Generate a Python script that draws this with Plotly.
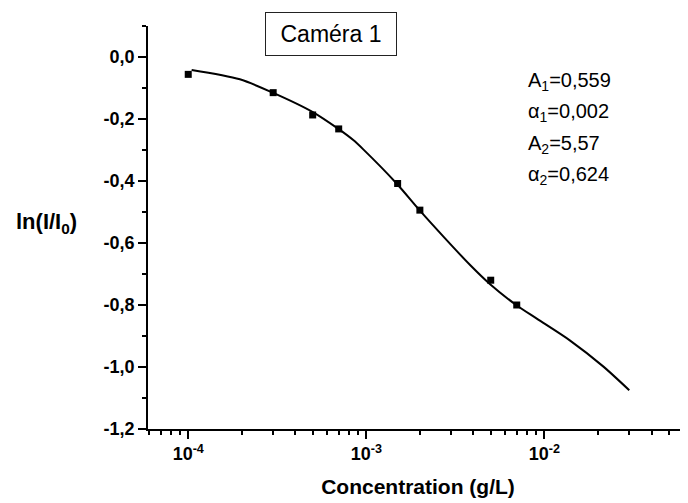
import plotly.graph_objects as go

# Measured points (concentration in g/L, ln(I/I0))
conc = [1e-4, 3e-4, 5e-4, 7e-4, 1.5e-3, 2e-3, 5e-3, 7e-3]
ln_ratio = [-0.056, -0.115, -0.187, -0.232, -0.408, -0.494, -0.720, -0.800]

# Fitted curve
fit_conc = [1.045e-4, 1.95e-4, 2.98e-4, 4.98e-4, 6.97e-4, 8.45e-4, 9.62e-4, 1.48e-3,
            1.99e-3, 2.77e-3, 3.83e-3, 4.96e-3, 6.95e-3, 9.07e-3, 1.39e-2, 2.14e-2, 3.0e-2]
fit_ln = [-0.042, -0.072, -0.115, -0.177, -0.232, -0.268, -0.298, -0.408,
          -0.494, -0.585, -0.671, -0.733, -0.800, -0.844, -0.914, -0.998, -1.075]

# Axis ticks
y_ticks = [0.0, -0.2, -0.4, -0.6, -0.8, -1.0, -1.2]
y_labels = ['0,0', '-0,2', '-0,4', '-0,6', '-0,8', '-1,0', '-1,2']
y_minor = [0.1, -0.1, -0.3, -0.5, -0.7, -0.9, -1.1]
x_ticks = [1e-4, 1e-3, 1e-2]
x_labels = ['10<sup>-4</sup>', '10<sup>-3</sup>', '10<sup>-2</sup>']
x_minor = [6e-5, 7e-5, 8e-5, 9e-5,
           2e-4, 3e-4, 4e-4, 5e-4, 6e-4, 7e-4, 8e-4, 9e-4,
           2e-3, 3e-3, 4e-3, 5e-3, 6e-3, 7e-3, 8e-3, 9e-3,
           2e-2, 3e-2, 4e-2, 5e-2, 6e-2]

params = ['A<sub>1</sub>=0,559', 'α<sub>1</sub>=0,002', 'A<sub>2</sub>=5,57', 'α<sub>2</sub>=0,624']

FONT = 'Arial, Liberation Sans, sans-serif'


def main():
    fig = go.Figure()
    fig.add_trace(go.Scatter(
        x=fit_conc, y=fit_ln, mode='lines',
        line=dict(color='black', width=2, shape='spline', smoothing=0.8),
        showlegend=False
    ))
    fig.add_trace(go.Scatter(
        x=conc, y=ln_ratio, mode='markers',
        marker=dict(symbol='square', size=7, color='black'),
        showlegend=False
    ))

    fig.update_xaxes(
        type='log', range=[-4.226, -1.193],
        showline=True, linecolor='black', linewidth=1.5, showgrid=False, zeroline=False,
        ticks='outside', ticklen=8, tickwidth=1.5, tickcolor='black',
        tickvals=x_ticks, ticktext=x_labels,
        tickfont=dict(family=FONT, size=18, color='black', weight='bold'),
        minor=dict(tickvals=x_minor, ticks='outside', ticklen=4, tickwidth=1.5, tickcolor='black',
                   showgrid=False),
        title=dict(text='Concentration (g/L)', standoff=16,
                   font=dict(family=FONT, size=21, color='black', weight='bold'))
    )
    fig.update_yaxes(
        range=[-1.2, 0.1],
        showline=True, linecolor='black', linewidth=1.5, showgrid=False, zeroline=False,
        ticks='outside', ticklen=8, tickwidth=1.5, tickcolor='black',
        tickvals=y_ticks, ticktext=y_labels,
        tickfont=dict(family=FONT, size=18, color='black', weight='bold'),
        minor=dict(tickvals=y_minor, ticks='outside', ticklen=4, tickwidth=1.5, tickcolor='black',
                   showgrid=False)
    )

    # Horizontal y-axis label
    fig.add_annotation(
        text='ln(I/I<sub>0</sub>)', xref='paper', yref='paper',
        x=-0.128, y=0.51, xanchor='right', yanchor='middle', showarrow=False,
        font=dict(family=FONT, size=22, color='black', weight='bold')
    )
    # Boxed title
    fig.add_annotation(
        text='Caméra 1', xref='paper', yref='paper', x=0.339, y=0.979,
        xanchor='center', yanchor='middle', showarrow=False,
        width=118, height=30, borderpad=6, bordercolor='#222', borderwidth=1,
        bgcolor='white', font=dict(family=FONT, size=23, color='black')
    )
    # Fit parameters
    for i, txt in enumerate(params):
        fig.add_annotation(
            text=txt, xref='paper', yref='paper', x=0.700, y=0.863 - i * 0.078,
            xanchor='left', yanchor='middle', showarrow=False,
            font=dict(family=FONT, size=20, color='black')
        )

    # the page body keeps an 8 px margin, so the figure is 8 px smaller
    fig.update_layout(
        width=680, height=495,
        margin=dict(l=140, r=0, t=18, b=74),
        plot_bgcolor='white', paper_bgcolor='white',
        font=dict(family=FONT, color='black')
    )
    fig.write_html('out.html')


if __name__ == '__main__':
    main()
